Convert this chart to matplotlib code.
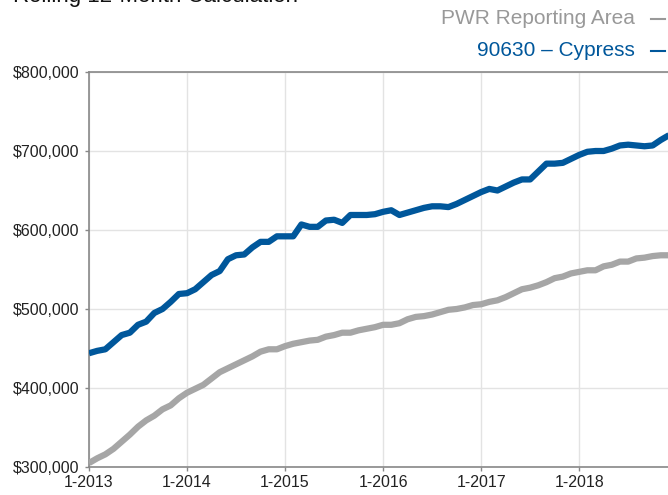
import matplotlib.pyplot as plt
from matplotlib.lines import Line2D
import numpy as np

plt.rcParams['font.family'] = ['Liberation Sans', 'DejaVu Sans']

# monthly rolling 12-month values, Jan 2013 .. Dec 2018
cypress = [444, 447, 449, 458, 467, 470, 480, 484, 495, 500, 509, 519,
           520, 525, 534, 543, 548, 563, 568, 569, 578, 585, 585, 592,
           592, 592, 607, 604, 604, 612, 613, 609, 619, 619, 619, 620,
           623, 625, 619, 622, 625, 628, 630, 630, 629, 633, 638, 643,
           648, 652, 650, 655, 660, 664, 664, 674, 684, 684, 685, 690,
           695, 699, 700, 700, 703, 707, 708, 707, 706, 707, 714, 720]
pwr_area = [305, 311, 316, 323, 332, 341, 351, 359, 365, 373, 378, 387,
            394, 399, 404, 412, 420, 425, 430, 435, 440, 446, 449, 449,
            453, 456, 458, 460, 461, 465, 467, 470, 470, 473, 475, 477,
            480, 480, 482, 487, 490, 491, 493, 496, 499, 500, 502, 505,
            506, 509, 511, 515, 520, 525, 527, 530, 534, 539, 541, 545,
            547, 549, 549, 554, 556, 560, 560, 564, 565, 567, 568, 568]
cypress = np.array(cypress) * 1000
pwr_area = np.array(pwr_area) * 1000
months = np.arange(len(cypress))

year_ticks = [0, 12, 24, 36, 48, 60]
year_labels = ['1-2013', '1-2014', '1-2015', '1-2016', '1-2017', '1-2018']
y_ticks = [300000, 400000, 500000, 600000, 700000, 800000]

blue = '#00579b'
gray = '#a6a6a6'

fig = plt.figure(figsize=(6.68, 4.95), dpi=100)
ax = fig.add_axes([89 / 668, 1 - 467 / 495, 580 / 668, 395 / 495])

ax.plot(months, pwr_area, color=gray, lw=4.5, solid_capstyle='butt', zorder=3)
ax.plot(months, cypress, color=blue, lw=4.5, solid_capstyle='butt', zorder=4)

ax.set_xlim(0, 71)
ax.set_ylim(300000, 800000)
ax.set_xticks(year_ticks)
ax.set_xticklabels(year_labels)
ax.set_yticks(y_ticks)
ax.set_yticklabels(['${:,.0f}'.format(v) for v in y_ticks])
ax.tick_params(axis='both', labelsize=11.5, colors='#888888', labelcolor='#222222',
               length=3, width=1)
ax.tick_params(axis='x', pad=3)
ax.tick_params(axis='y', pad=4)

ax.grid(True, color='#e3e3e3', lw=1)
ax.set_axisbelow(True)
for side in ['left', 'bottom', 'top']:
    ax.spines[side].set_color('#888888')
    ax.spines[side].set_linewidth(1.2)
ax.spines['right'].set_visible(False)

# title sits mostly above the visible area, as in the cropped original
fig.text(13 / 668, 1 - 2 / 495, 'Rolling 12-Month Calculation', fontsize=16,
         va='baseline', ha='left', color='#111111')

# legend: right-aligned labels with short line keys
legend_rows = [('PWR Reporting Area', '#999999', 18), ('90630 – Cypress', blue, 50)]
for label, col, ypix in legend_rows:
    fig.text(635 / 668, 1 - ypix / 495, label, fontsize=15, color=col,
             ha='right', va='center')
    fig.add_artist(Line2D([651 / 668, 665 / 668], [1 - (ypix + 1) / 495] * 2,
                          color=col, lw=1.5, transform=fig.transFigure))

fig.savefig('out.png', dpi=100)
